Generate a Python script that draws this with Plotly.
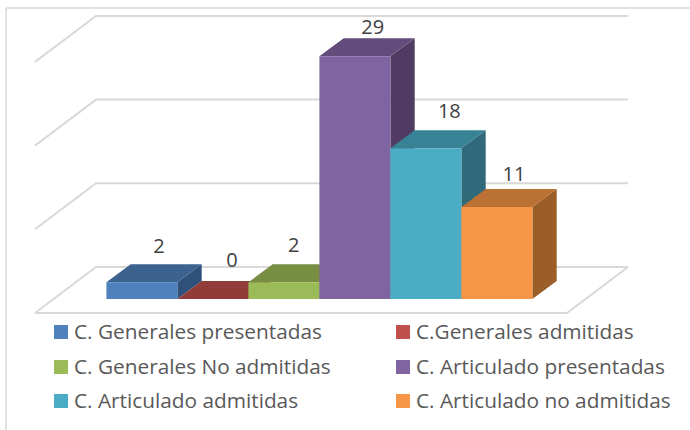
import plotly.graph_objects as go

categories = ["C. Generales presentadas", "C.Generales admitidas", "C. Generales No admitidas",
              "C. Articulado presentadas", "C. Articulado admitidas", "C. Articulado no admitidas"]
values = [2, 0, 2, 29, 18, 11]
gridline_values = [0, 10, 20, 30]

front_colors = ["#4F81BD", "#C0504D", "#9BBB59", "#8064A2", "#4BACC6", "#F79646"]
top_colors = ["#3C6290", "#923C3A", "#778E43", "#614C7B", "#388296", "#BB7134"]
side_colors = ["#2F507A", "#7A3230", "#5F7236", "#503C62", "#30697A", "#9B5E28"]

W, H = 690, 430
BAR_PX, UNIT_PX = 71.0, 8.37
X0_PX, Y0_PX = 106.4, 299.0
# oblique projection, in data units
BAR_DX, BAR_DY = 24.3 / BAR_PX, 18.0 / UNIT_PX
FLOOR_DX, FLOOR_DY = 61.0 / BAR_PX, 46.0 / UNIT_PX
FLOOR_LEFT, FLOOR_RIGHT = -71.4 / BAR_PX, 460.6 / BAR_PX
FLOOR_FRONT = -14.0 / UNIT_PX

label_dx = [0.02, 0.05, -0.08, 0.03, 0.11, 0.02]
label_dy = [1.9, 2.3, 2.1, 1.1, 2.1, 1.5]

fig = go.Figure()


def poly(xs, ys, color, name):
    fig.add_trace(go.Scatter(x=xs + xs[:1], y=ys + ys[:1], mode="lines", fill="toself",
                             fillcolor=color, line=dict(width=0), name=name, hoverinfo="skip"))


def seg(xs, ys):
    fig.add_trace(go.Scatter(x=xs, y=ys, mode="lines", line=dict(color="#D9D9D9", width=2),
                             hoverinfo="skip"))


back_left = FLOOR_LEFT + FLOOR_DX
back_right = FLOOR_RIGHT + FLOOR_DX
back_base = FLOOR_FRONT + FLOOR_DY
for v in gridline_values:
    seg([FLOOR_LEFT, back_left, back_right], [FLOOR_FRONT + v, back_base + v, back_base + v])
seg([FLOOR_LEFT, FLOOR_RIGHT, back_right], [FLOOR_FRONT, FLOOR_FRONT, back_base])

for i, (name, v) in enumerate(zip(categories, values)):
    l, r = float(i), float(i + 1)
    poly([r, r + BAR_DX, r + BAR_DX, r], [0, BAR_DY, v + BAR_DY, v], side_colors[i], name)
    poly([l, r, r + BAR_DX, l + BAR_DX], [v, v, v + BAR_DY, v + BAR_DY], top_colors[i], name)
    poly([l, r, r, l], [0, 0, v, v], front_colors[i], name)

fig.add_trace(go.Scatter(
    x=[i + 0.72 + d for i, d in enumerate(label_dx)],
    y=[v + BAR_DY + d for v, d in zip(values, label_dy)],
    mode="text", text=[str(v) for v in values],
    textposition="middle center",
    textfont=dict(family="Open Sans", size=20, color="#404040"), hoverinfo="skip"))

shapes = [
    dict(type="line", xref="paper", yref="paper", x0=6 / W, x1=1, y0=1 - 8 / H, y1=1 - 8 / H,
         line=dict(color="#D9D9D9", width=1.5)),
    dict(type="line", xref="paper", yref="paper", x0=6 / W, x1=6 / W, y0=0, y1=1 - 8 / H,
         line=dict(color="#D9D9D9", width=1.5)),
]
annotations = []
legend_cols = [54, 396]
legend_rows = [332, 367, 401]
for i, name in enumerate(categories):
    x = legend_cols[i % 2]
    y = legend_rows[i // 2]
    shapes.append(dict(type="rect", xref="paper", yref="paper", x0=x / W, x1=(x + 14) / W,
                       y0=1 - (y - 7) / H, y1=1 - (y + 7) / H,
                       fillcolor=front_colors[i], line=dict(width=0)))
    annotations.append(dict(xref="paper", yref="paper", x=(x + 17.5) / W, y=1 - (y - 1) / H, text=name,
                            showarrow=False, xanchor="left", yanchor="middle",
                            font=dict(family="Open Sans", size=20.8, color="#595959")))

fig.update_layout(
    width=W, height=H, margin=dict(l=0, r=0, t=0, b=0), showlegend=False,
    paper_bgcolor="white", plot_bgcolor="white", shapes=shapes, annotations=annotations,
    xaxis=dict(visible=False, range=[-X0_PX / BAR_PX, (W - X0_PX) / BAR_PX], domain=[0, 1]),
    yaxis=dict(visible=False, range=[-(H - Y0_PX) / UNIT_PX, Y0_PX / UNIT_PX], domain=[0, 1]),
)
fig.write_html("out.html", config=dict(displayModeBar=False),
               post_script="document.body.style.margin='0';document.body.style.overflow='hidden';")
